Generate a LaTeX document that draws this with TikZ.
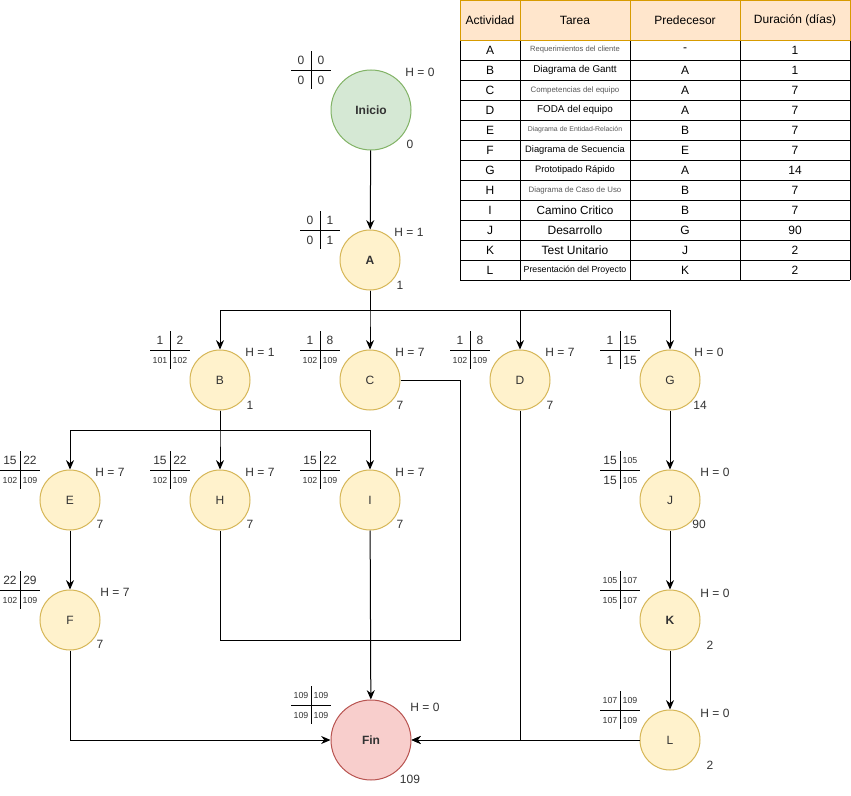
\documentclass[tikz,border=0pt]{standalone}
\usepackage{fontspec}
\setmainfont{Liberation Sans}
\usetikzlibrary{calc,positioning,arrows.meta}

\definecolor{inicioF}{HTML}{D5E8D4}
\definecolor{inicioB}{HTML}{82B366}
\definecolor{tareaF}{HTML}{FFF2CC}
\definecolor{tareaB}{HTML}{D6B656}
\definecolor{finF}{HTML}{F8CECC}
\definecolor{finB}{HTML}{B85450}
\definecolor{cabF}{HTML}{FFE6CC}
\definecolor{cabB}{HTML}{D79B00}
\definecolor{texto}{HTML}{333333}

% numero chico si tiene tres cifras
\newcommand{\tam}[1]{\ifnum#1>99 \fontsize{6.6}{7}\selectfont\fi #1}
% cruz de tiempos: #1 nombre, #2 centro, #3..#6 valores
\newcommand{\cruz}[6]
	{
	\coordinate (#1-c) at (#2);
	\draw ($(#1-c)+(-20,0)$) -- ($(#1-c)+(20,0)$);
	\draw ($(#1-c)+(0,-19)$) -- ($(#1-c)+(0,19)$);
	\node[num] (#1-ti) at ($(#1-c)+(-10,-10)$) {\tam{#3}};
	\node[num] (#1-td) at ($(#1-c)+(10,-10)$) {\tam{#4}};
	\node[num] (#1-bi) at ($(#1-c)+(-10,10)$) {\tam{#5}};
	\node[num] (#1-bd) at ($(#1-c)+(10,10)$) {\tam{#6}};
	}

\tikzset{
	num/.style={inner sep=0pt,font=\fontsize{9}{10}\selectfont,text=texto},
	info/.style={inner sep=0pt,font=\fontsize{9}{10}\selectfont,text=texto},
	tarea/.style={circle,draw=tareaB,fill=tareaF,line width=0.75pt,minimum size=45pt,inner sep=0pt,font=\fontsize{9}{10}\selectfont,text=texto},
	inicio/.style={tarea,draw=inicioB,fill=inicioF,minimum size=60pt,font=\fontsize{9}{10}\selectfont\bfseries},
	fin/.style={tarea,draw=finB,fill=finF,minimum size=60pt,font=\fontsize{9}{10}\selectfont\bfseries},
	flecha/.style={-{Stealth[length=7pt,width=6pt]}},
	celda/.style={inner sep=0pt,font=\fontsize{9}{10}\selectfont,text=black},
}

\begin{document}
\begin{tikzpicture}[x=0.75pt,y=-0.75pt,line width=0.75pt]

\fill[white] (0,0) rectangle (851,796);
\useasboundingbox (0,0) rectangle (851,796);

% nodos
\node[inicio] (Inicio) at (371,110) {Inicio};
\node[tarea,font=\fontsize{9}{10}\selectfont\bfseries] (A) at (370,260) {A};
\node[tarea] (B) at (220,380) {B};
\node[tarea] (C) at (370,380) {C};
\node[tarea] (D) at (520,380) {D};
\node[tarea] (G) at (670,380) {G};
\node[tarea] (E) at (70,500) {E};
\node[tarea] (H) at (220,500) {H};
\node[tarea] (I) at (370,500) {I};
\node[tarea] (J) at (670,500) {J};
\node[tarea] (F) at (70,620) {F};
\node[tarea,font=\fontsize{9}{10}\selectfont\bfseries] (K) at (670,620) {K};
\node[tarea] (L) at (670,740) {L};
\node[fin] (Fin) at (371,740) {Fin};

% cruces de tiempos
\cruz{cInicio}{311,70}{0}{0}{0}{0}
\cruz{cA}{320,230}{0}{1}{0}{1}
\cruz{cB}{170,350}{1}{2}{101}{102}
\cruz{cC}{320,350}{1}{8}{102}{109}
\cruz{cD}{470,350}{1}{8}{102}{109}
\cruz{cG}{620,350}{1}{15}{1}{15}
\cruz{cE}{20,470}{15}{22}{102}{109}
\cruz{cH}{170,470}{15}{22}{102}{109}
\cruz{cI}{320,470}{15}{22}{102}{109}
\cruz{cJ}{620,470}{15}{105}{15}{105}
\cruz{cF}{20,590}{22}{29}{102}{109}
\cruz{cK}{620,590}{105}{107}{105}{107}
\cruz{cL}{620,710}{107}{109}{107}{109}
\cruz{cFin}{311,705}{109}{109}{109}{109}

% holguras
\node[info] (hInicio) at (420,72) {H = 0};
\node[info] (hA) at (409,232) {H = 1};
\node[info] (hB) at (260,352) {H = 1};
\node[info] (hC) at (410,352) {H = 7};
\node[info] (hD) at (560,352) {H = 7};
\node[info] (hG) at (709,352) {H = 0};
\node[info] (hE) at (110,472) {H = 7};
\node[info] (hH) at (260,472) {H = 7};
\node[info] (hI) at (410,472) {H = 7};
\node[info] (hJ) at (715,472) {H = 0};
\node[info] (hF) at (115,592) {H = 7};
\node[info] (hK) at (715,593) {H = 0};
\node[info] (hL) at (715,713) {H = 0};
\node[info] (hFin) at (425,707) {H = 0};

% duraciones
\node[info] (dInicio) at (410,144) {0};
\node[info] (dA) at (400,285) {1};
\node[info] (dB) at (250,405) {1};
\node[info] (dC) at (400,405) {7};
\node[info] (dD) at (550,405) {7};
\node[info] (dG) at (700,405) {14};
\node[info] (dE) at (100,524) {7};
\node[info] (dH) at (250,524) {7};
\node[info] (dI) at (400,524) {7};
\node[info] (dJ) at (699,524) {90};
\node[info] (dF) at (100,644) {7};
\node[info] (dK) at (710,645) {2};
\node[info] (dL) at (710,765) {2};
\node[info] (dFin) at (410,779) {109};

% conexiones
\coordinate (barraA) at (370,310);
\coordinate (barraB) at (220,430);
\coordinate (esqCH) at (460,640);
\draw[flecha] (Inicio) -- (A);
\foreach \n in {B,C,D,G}
	\draw[flecha] (A.south) -- (barraA) -| (\n.north);
\foreach \n in {E,H,I}
	\draw[flecha] (B.south) -- (barraB) -| (\n.north);
\draw[flecha] (E) -- (F);
\draw[flecha] (G) -- (J);
\draw[flecha] (J) -- (K);
\draw[flecha] (K) -- (L);
\draw (C.east) -| (esqCH) -| (H.south);
\draw[flecha] (I) -- (Fin);
\draw[flecha] (F.south) |- (Fin.west);
\draw[flecha] (D.south) |- (Fin.east);
\draw[flecha] (L.west) -- (Fin.east);

% tabla de actividades
\foreach \y in {60,80,...,280}
	\draw (460,\y) -- (850,\y);
\foreach \x in {460,520,630,740,850}
	\draw (\x,40) -- (\x,280);
\fill[cabF] (460,0.5) rectangle (850,40);
\foreach \x in {520,630,740}
	\draw[cabB] (\x,0.5) -- (\x,40);
\draw[cabB] (460,0.5) rectangle (850,40);
\node[celda] (cab1) at (490,20) {Actividad};
\node[celda] (cab2) at (575,20) {Tarea};
\node[celda] (cab3) at (685,20) {Predecesor};
\node[celda] (cab4) at (795,20) {Duración (días)};

\foreach \act/\tarea/\fs/\col/\pre/\dur [count=\i] in {
	A/{Requerimientos del cliente}/5.7/black!65/-/1,
	B/{Diagrama de Gantt}/7.4/black/A/1,
	C/{Competencias del equipo}/5.9/black!65/A/7,
	D/{FODA del equipo}/7.4/black/A/7,
	E/{Diagrama de Entidad-Relación}/5.2/black!65/B/7,
	F/{Diagrama de Secuencia}/7.0/black/E/7,
	G/{Prototipado Rápido}/7.0/black/A/14,
	H/{Diagrama de Caso de Uso}/5.9/black!65/B/7,
	I/{Camino Critico}/8.8/black/B/7,
	J/{Desarrollo}/9/black/G/90,
	K/{Test Unitario}/9/black/J/2,
	L/{Presentación del Proyecto}/6.6/black/K/2}
	{
	\node[celda] (act\i) at (490,30+20*\i) {\act};
	\node[celda,text=\col,font=\fontsize{\fs}{\fs}\selectfont] (tar\i) at (575,30+20*\i) {\tarea};
	\node[celda] (pre\i) at (685,30+20*\i) {\pre};
	\node[celda] (dur\i) at (795,30+20*\i) {\dur};
	}

\end{tikzpicture}
\end{document}
